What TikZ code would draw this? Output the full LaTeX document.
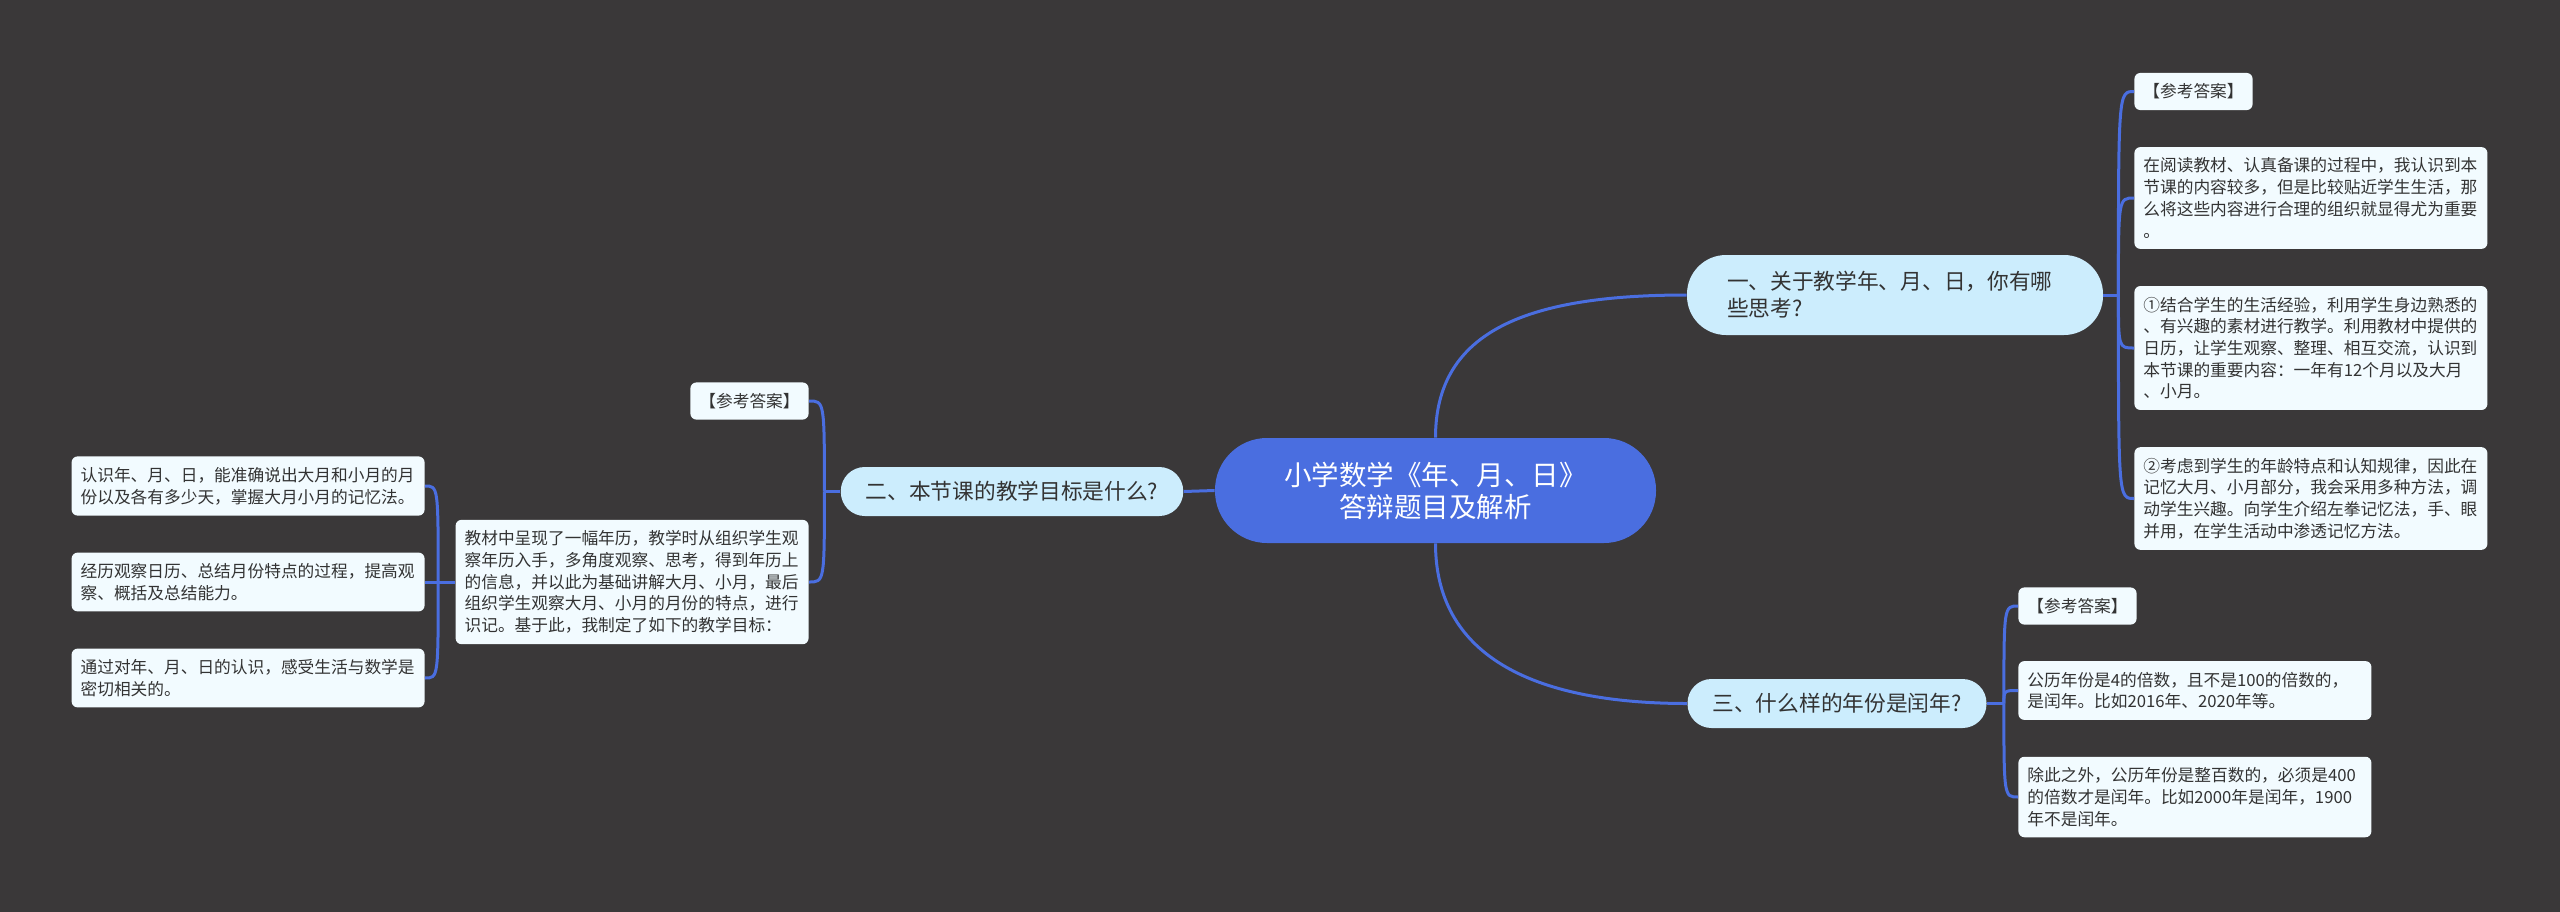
\documentclass[tikz,border=0pt]{standalone}
\usepackage{fontspec}
\newfontfamily\cjk{Noto Sans CJK SC}
\definecolor{bgdark}{RGB}{58,56,57}
\definecolor{mainblue}{RGB}{74,110,224}
\definecolor{subblue}{RGB}{204,237,253}
\definecolor{leafwhite}{RGB}{242,251,255}
\definecolor{txtdark}{RGB}{51,51,51}

\begin{document}
\begin{tikzpicture}[x=0.5pt, y=-0.5pt,
    link/.style={draw=mainblue, line width=1.5pt},
    root/.style={fill=mainblue, text=white, rounded corners=26pt, minimum width=220.5pt, minimum height=52.5pt, align=center, font=\cjk\fontsize{13.75}{16}\selectfont},
    topic/.style={fill=subblue, text=txtdark, inner xsep=12.5pt, minimum height=24.5pt, rounded corners=12pt, font=\cjk\fontsize{10.85}{13.5}\selectfont},
    leaf/.style={fill=leafwhite, text=txtdark, rounded corners=3pt, inner xsep=4.5pt, inner ysep=5.4pt, font=\cjk\fontsize{8.35}{10.85}\selectfont},
    para/.style={leaf, text width=167.5pt, align=left}]
    \useasboundingbox (0,0) rectangle (2560,911);
    \fill[bgdark] (-10,-10) rectangle (2570,921);

    % centre
    \node[root] (root) at (1435.5,490.5) {小学数学《年、月、日》\\答辩题目及解析};

    % first question
    \node[topic, text width=168pt, inner xsep=20pt, minimum height=40pt, rounded corners=19.5pt, align=left] (q1) at (1895,295) {一、关于教学年、月、日，你有哪\\些思考?};
    \node[leaf, anchor=west] (q1a) at (2134,91.5) {【参考答案】};
    \node[para, anchor=west] (q1b) at (2134,198) {在阅读教材、认真备课的过程中，我认识到本\\节课的内容较多，但是比较贴近学生生活，那\\么将这些内容进行合理的组织就显得尤为重要\\。};
    \node[para, anchor=west] (q1c) at (2134,348) {①结合学生的生活经验，利用学生身边熟悉的\\、有兴趣的素材进行教学。利用教材中提供的\\日历，让学生观察、整理、相互交流，认识到\\本节课的重要内容：一年有12个月以及大月\\、小月。};
    \node[para, anchor=west] (q1d) at (2134,498.5) {②考虑到学生的年龄特点和认知规律，因此在\\记忆大月、小月部分，我会采用多种方法，调\\动学生兴趣。向学生介绍左拳记忆法，手、眼\\并用，在学生活动中渗透记忆方法。};

    % second question
    \node[topic] (q2) at (1012,491.5) {二、本节课的教学目标是什么?};
    \node[leaf, anchor=east] (q2a) at (809,401) {【参考答案】};
    \node[para, anchor=east] (q2b) at (809,582) {教材中呈现了一幅年历，教学时从组织学生观\\察年历入手，多角度观察、思考，得到年历上\\的信息，并以此为基础讲解大月、小月，最后\\组织学生观察大月、小月的月份的特点，进行\\识记。基于此，我制定了如下的教学目标：};
    \node[para, anchor=east] (g1) at (425,486) {认识年、月、日，能准确说出大月和小月的月\\份以及各有多少天，掌握大月小月的记忆法。};
    \node[para, anchor=east] (g2) at (425,582) {经历观察日历、总结月份特点的过程，提高观\\察、概括及总结能力。};
    \node[para, anchor=east] (g3) at (425,678) {通过对年、月、日的认识，感受生活与数学是\\密切相关的。};

    % third question
    \node[topic] (q3) at (1837,703.5) {三、什么样的年份是闰年?};
    \node[leaf, anchor=west] (q3a) at (2018,606) {【参考答案】};
    \node[para, anchor=west] (q3b) at (2018,690.5) {公历年份是4的倍数，且不是100的倍数的，\\是闰年。比如2016年、2020年等。};
    \node[para, anchor=west] (q3c) at (2018,797) {除此之外，公历年份是整百数的，必须是400\\的倍数才是闰年。比如2000年是闰年，1900\\年不是闰年。};

    % links
    \draw[link] (root.north) .. controls +(0,-108) and +(-157,0) .. (q1.west);
    \draw[link] (root.south) .. controls +(0,110) and +(-158,0) .. (q3.west);
    \draw[link] (root.west) -- (q2.east);

    \draw[link] (q1.east) -- ++(15,0) coordinate (f1);
    \draw[link] (f1) .. controls (f1 |- q1a.west) .. (q1a.west);
    \draw[link] (f1) .. controls (f1 |- q1b.west) .. (q1b.west);
    \draw[link] (f1) .. controls (f1 |- q1c.west) .. (q1c.west);
    \draw[link] (f1) .. controls (f1 |- q1d.west) .. (q1d.west);

    \draw[link] (q2.west) -- ++(-16,0) coordinate (f2);
    \draw[link] (f2) .. controls (f2 |- q2a.east) .. (q2a.east);
    \draw[link] (f2) .. controls (f2 |- q2b.east) .. (q2b.east);

    \draw[link] (q2b.west) -- ++(-17,0) coordinate (f4);
    \draw[link] (f4) .. controls (f4 |- g1.east) .. (g1.east);
    \draw[link] (f4) -- (g2.east);
    \draw[link] (f4) .. controls (f4 |- g3.east) .. (g3.east);

    \draw[link] (q3.east) -- ++(17,0) coordinate (f3);
    \draw[link] (f3) .. controls (f3 |- q3a.west) .. (q3a.west);
    \draw[link] (f3) .. controls (f3 |- q3b.west) .. (q3b.west);
    \draw[link] (f3) .. controls (f3 |- q3c.west) .. (q3c.west);
\end{tikzpicture}
\end{document}
